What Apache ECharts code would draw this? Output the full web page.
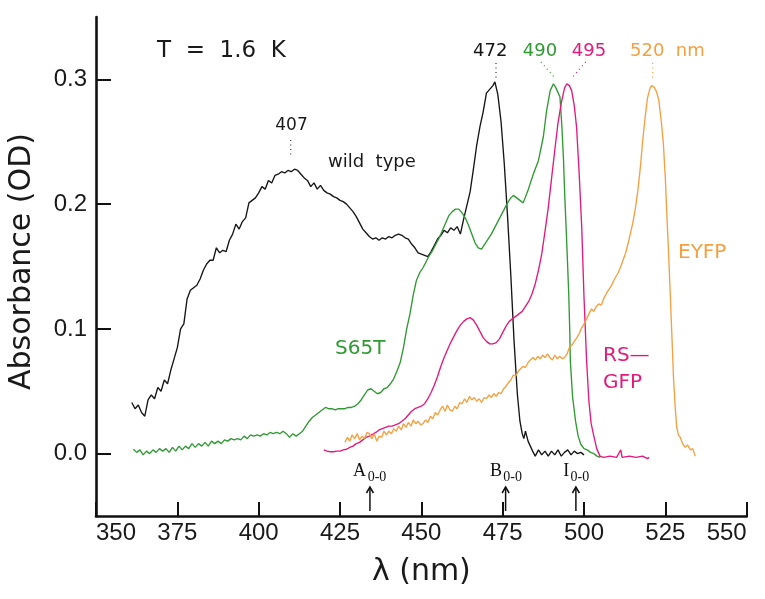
<!DOCTYPE html>
<html><head><meta charset="utf-8">
<script src="https://cdn.jsdelivr.net/npm/echarts@6/dist/echarts.min.js"></script>
<style>html,body{margin:0;padding:0;background:#fff}#c{width:765px;height:599px}</style>
</head><body><div id="c"></div>
<script>
// ---- data: [wavelength nm, absorbance OD] ----
const wildType = [[361,0.041],[362,0.036],[363,0.039],[364,0.033],[365,0.030],[366,0.043],[367,0.047],[368,0.044],[369,0.053],[370,0.050],[371,0.059],[372,0.056],[373,0.067],[374,0.076],[375,0.085],[376,0.100],[377,0.104],[378,0.124],[379,0.131],[380,0.133],[381,0.135],[382,0.140],[383,0.147],[384,0.152],[385,0.155],[386,0.155],[387,0.165],[388,0.161],[389,0.163],[390,0.162],[391,0.171],[392,0.176],[393,0.184],[394,0.180],[395,0.186],[396,0.189],[397,0.201],[398,0.203],[399,0.205],[400,0.209],[401,0.214],[402,0.212],[403,0.219],[404,0.217],[405,0.223],[406,0.224],[407,0.226],[408,0.225],[409,0.227],[410,0.226],[411,0.228],[412,0.227],[413,0.224],[414,0.221],[415,0.219],[416,0.214],[417,0.217],[418,0.212],[419,0.215],[420,0.211],[421,0.209],[422,0.208],[423,0.206],[424,0.205],[425,0.203],[426,0.202],[427,0.200],[428,0.197],[429,0.194],[430,0.190],[431,0.185],[432,0.180],[433,0.177],[434,0.174],[435,0.172],[436,0.173],[437,0.171],[438,0.173],[439,0.172],[440,0.174],[441,0.173],[442,0.175],[443,0.176],[444,0.175],[445,0.173],[446,0.172],[447,0.168],[448,0.165],[449,0.161],[450,0.160],[451,0.159],[452,0.158],[453,0.162],[454,0.167],[455,0.172],[456,0.175],[457,0.179],[458,0.177],[459,0.181],[460,0.179],[461,0.182],[462,0.176],[463,0.188],[464,0.199],[465,0.210],[466,0.228],[467,0.247],[468,0.262],[469,0.274],[470,0.289],[471,0.292],[472,0.295],[472.6,0.298],[473.5,0.288],[474.5,0.266],[475.5,0.232],[476.5,0.190],[477.5,0.143],[478.5,0.090],[479.5,0.048],[480.3,0.026],[481,0.016],[481.5,0.012],[482,0.018],[482.8,0.010],[483.5,0.006],[484.2,0.002],[485,-0.002],[486,0.003],[487,-0.001],[488,0.002],[489,-0.002],[490,0.002],[491,-0.001],[492,0.003],[493,-0.002],[494,0.001],[495,0.003],[496,-0.001],[497,0.002],[498,0.000],[499,0.001],[500,-0.001]];

const s65t = [[361.5,0.0035],[362.5,0.001],[363.5,0.003],[364.5,-0.001],[365.5,0.002],[366.5,0.000],[367.5,0.003],[368.5,0.001],[369.5,0.004],[370.5,0.002],[371.5,0.004],[372.5,0.001],[373.5,0.005],[374.5,0.002],[375.5,0.006],[376.5,0.003],[377.5,0.006],[378.5,0.004],[379.5,0.008],[380.5,0.005],[381.5,0.008],[382.5,0.006],[383.5,0.009],[384.5,0.006],[385.5,0.010],[386.5,0.008],[387.5,0.010],[388.5,0.008],[389.5,0.011],[390.5,0.010],[391.5,0.012],[392.5,0.011],[393.5,0.012],[394.5,0.011],[395.5,0.014],[396.5,0.012],[397.5,0.015],[398.5,0.014],[399.5,0.015],[400.5,0.014],[401.5,0.016],[402.5,0.015],[403.5,0.017],[404.5,0.016],[405.5,0.017],[406.5,0.016],[407.5,0.018],[408.5,0.016],[409.5,0.013],[410.5,0.016],[411.5,0.014],[412.5,0.016],[413.5,0.018],[414.5,0.022],[415.5,0.026],[416.5,0.029],[417.5,0.031],[418.5,0.033],[419.5,0.035],[420.5,0.037],[421.5,0.036],[422.5,0.036],[423.5,0.035],[424.5,0.036],[425.5,0.036],[426.5,0.036],[427.5,0.037],[428.5,0.037],[429.5,0.038],[430.5,0.040],[431.5,0.043],[432.5,0.047],[433.5,0.051],[434.5,0.052],[435.5,0.050],[436.5,0.048],[437.5,0.049],[438.5,0.052],[439.5,0.053],[440.5,0.056],[441.5,0.060],[442.5,0.066],[443.5,0.073],[444.5,0.085],[445.5,0.100],[446.5,0.112],[447.5,0.127],[448.5,0.139],[449.5,0.145],[450.5,0.149],[451.5,0.154],[452.5,0.159],[453.5,0.163],[454.5,0.168],[455.5,0.173],[456.5,0.179],[457.5,0.185],[458.5,0.191],[459.5,0.194],[460.5,0.196],[461.5,0.196],[462.5,0.193],[463.5,0.189],[464.5,0.183],[465.5,0.176],[466.5,0.169],[467.5,0.165],[468.5,0.164],[469.5,0.168],[470.5,0.172],[471.5,0.176],[472.5,0.181],[473.5,0.186],[474.5,0.191],[475.5,0.196],[476.5,0.201],[477.5,0.205],[478.3,0.207],[479.3,0.205],[480.3,0.203],[481.3,0.201],[481.9,0.2015],[482.9,0.212],[484.4,0.224],[486,0.235],[487.5,0.254],[488.5,0.275],[489.6,0.291],[490.6,0.2965],[491.2,0.294],[491.6,0.295],[492.6,0.286],[493.2,0.262],[493.7,0.235],[494.1,0.205],[494.5,0.181],[494.9,0.155],[495.3,0.128],[495.6,0.100],[495.8,0.074],[496.5,0.045],[497.4,0.026],[498.2,0.014],[499,0.0075],[500,0.004],[501,0.003],[502,0.001],[503,0.000],[504,-0.002],[505,-0.003]];

const rsGfp = [[420,0.003],[421,0.002],[422,0.0015],[423,0.0015],[424,0.002],[425,0.002],[426,0.003],[427,0.0035],[428,0.005],[429,0.006],[430,0.008],[431,0.009],[432,0.011],[433,0.013],[434,0.014],[435,0.0155],[436,0.017],[437,0.019],[438,0.020],[439,0.021],[440,0.022],[441,0.022],[442,0.023],[443,0.024],[444,0.026],[445,0.028],[446,0.031],[447,0.034],[448,0.036],[449,0.037],[450,0.038],[451,0.040],[452,0.044],[453,0.049],[454,0.055],[455,0.062],[456,0.070],[457,0.077],[458,0.083],[459,0.089],[460,0.094],[461,0.099],[462,0.103],[463,0.106],[464,0.108],[465,0.109],[466,0.107],[467,0.103],[468,0.098],[469,0.093],[470,0.090],[471,0.088],[472,0.088],[473,0.089],[474,0.092],[475,0.097],[476,0.102],[477,0.106],[478,0.108],[479,0.110],[480,0.112],[481,0.114],[482,0.118],[483,0.122],[484,0.128],[485,0.136],[486,0.147],[487,0.160],[488,0.178],[489,0.197],[490,0.220],[491,0.243],[492,0.265],[493,0.281],[494,0.293],[494.7,0.2965],[495.5,0.295],[496.2,0.291],[497,0.279],[497.7,0.262],[498.5,0.225],[499.3,0.181],[500,0.125],[500.8,0.074],[501.5,0.042],[502.2,0.024],[502.9,0.0155],[503.9,0.004],[504.9,-0.002],[506,-0.003],[508,-0.002],[510,-0.003],[511.3,0.003],[511.7,-0.003],[514,-0.002],[516,-0.003],[518,-0.002],[519.5,-0.004],[520,-0.003]];

const eyfp = [[426.5,0.009],[427.3,0.013],[428,0.010],[428.7,0.015],[429.5,0.012],[430.3,0.016],[431,0.011],[431.8,0.014],[432.5,0.012],[433.3,0.017],[434,0.016],[434.8,0.012],[435.5,0.016],[436.3,0.010],[437,0.014],[437.8,0.013],[438.5,0.018],[439.3,0.015],[440,0.018],[440.8,0.016],[441.5,0.020],[442.3,0.018],[443,0.022],[443.8,0.019],[444.5,0.024],[445.3,0.021],[446,0.025],[446.8,0.022],[447.5,0.027],[448.3,0.024],[449,0.026],[449.8,0.023],[450.5,0.024],[451.3,0.027],[452,0.025],[452.8,0.030],[453.5,0.028],[454.3,0.033],[455,0.031],[455.8,0.035],[456.5,0.038],[457.3,0.034],[458,0.039],[458.8,0.035],[459.5,0.034],[460.3,0.038],[461,0.036],[461.8,0.041],[462.5,0.040],[463.3,0.044],[464,0.041],[464.8,0.046],[465.5,0.043],[466.3,0.045],[467,0.042],[467.8,0.044],[468.5,0.041],[469.3,0.045],[470,0.044],[470.8,0.047],[471.5,0.045],[472.3,0.048],[473,0.046],[473.8,0.049],[474.5,0.048],[475.3,0.052],[476,0.054],[476.8,0.057],[477.5,0.059],[478.3,0.063],[479,0.062],[479.8,0.066],[480.5,0.068],[481.3,0.070],[482,0.069],[482.8,0.073],[483.5,0.075],[484.3,0.077],[485,0.075],[485.8,0.078],[486.5,0.076],[487.3,0.079],[488,0.077],[488.8,0.080],[489.5,0.077],[490.3,0.075],[491,0.079],[491.8,0.076],[492.5,0.078],[493.3,0.076],[494,0.077],[494.8,0.080],[495.5,0.085],[496.3,0.087],[497,0.090],[497.8,0.093],[498.5,0.096],[499.3,0.101],[500,0.104],[500.8,0.108],[501.5,0.112],[502.3,0.116],[503,0.114],[503.8,0.118],[504.5,0.120],[505.3,0.119],[506,0.124],[506.8,0.128],[507.5,0.131],[508.3,0.134],[509,0.138],[509.8,0.142],[510.5,0.145],[511.3,0.150],[512,0.155],[512.8,0.161],[513.5,0.168],[514.3,0.177],[515,0.185],[515.8,0.197],[516.5,0.210],[517.3,0.229],[518,0.250],[518.8,0.270],[519.5,0.285],[520.3,0.293],[520.8,0.295],[521.5,0.294],[522.3,0.290],[523,0.283],[523.8,0.265],[524.4,0.248],[525,0.220],[525.4,0.195],[526,0.160],[526.5,0.128],[527,0.095],[527.5,0.061],[528,0.038],[528.5,0.021],[529,0.015],[529.6,0.013],[530.3,0.008],[531.1,0.005],[531.8,0.007],[532.7,0.003],[533.4,0.004],[534.2,-0.002]];

const xTicks = [350,375,400,425,450,475,500,525,550];
const yTicks = [0,0.1,0.2,0.3];
// origin transition markers (wavelength nm)
const markerNames = ['A','B','I'];
const markerLambda = [434.2,475.9,497.5];

const C_BLACK = '#151515', C_GREEN = '#2f9a32', C_PINK = '#e5197a', C_ORANGE = '#f5a040';
const SANS = '"DejaVu Sans", sans-serif';

const chart = echarts.init(document.getElementById('c'));
function line(name, data, color) {
  return {name, type:'line', data, showSymbol:false, symbol:'none', smooth:false,
    lineStyle:{color, width:1.35}, itemStyle:{color}, animation:false, silent:true};
}
chart.setOption({
  animation:false,
  backgroundColor:'#fff',
  grid:{left:96, right:18.3, top:17, bottom:83, containLabel:false},
  xAxis:{type:'value', min:350, max:550, interval:25,
    axisLine:{onZero:false, lineStyle:{color:'#111', width:2.6}},
    axisTick:{inside:true, length:14, lineStyle:{color:'#111', width:2}},
    axisLabel:{fontSize:24, color:'#1a1a1a', fontFamily:'"Liberation Sans", sans-serif', margin:5,
      alignMinLabel:'left', alignMaxLabel:'right'},
    splitLine:{show:false},
    name:'λ (nm)', nameLocation:'middle', nameGap:41,
    nameTextStyle:{fontSize:30, fontFamily:SANS, color:'#1a1a1a'}},
  yAxis:{type:'value', min:-0.05, max:0.35,
    axisLine:{show:true, onZero:false, lineStyle:{color:'#111', width:2.6}},
    axisTick:{show:true, inside:true, length:15, customValues:yTicks, lineStyle:{color:'#111', width:2}},
    axisLabel:{customValues:yTicks, formatter:v=>Number(v).toFixed(1), fontSize:24, color:'#1a1a1a',
      fontFamily:'"Liberation Sans", sans-serif', margin:9},
    splitLine:{show:false}},
  series:[line('wild type', wildType, C_BLACK), line('S65T', s65t, C_GREEN),
          line('RS-GFP', rsGfp, C_PINK), line('EYFP', eyfp, C_ORANGE)]
});

function txt(text, x, y, size, color, align, family) {
  return {type:'text', z:10, style:{text, x, y, fontSize:size, fontFamily:family||SANS, fill:color,
    align:align||'center', verticalAlign:'middle', textAlign:align||'center', textVerticalAlign:'middle'}};
}
function dots(x1,y1,x2,y2,color){
  return {type:'line', z:10, shape:{x1,y1,x2,y2}, style:{stroke:color, lineWidth:1.2, lineDash:[1,3.5]}};
}
const g = [];
g.push({type:'text', z:10, x:22, y:261.5, rotation:Math.PI/2,
  style:{text:'Absorbance (OD)', fontSize:30, fontFamily:SANS, fill:'#1a1a1a', align:'center', verticalAlign:'middle', textAlign:'center', textVerticalAlign:'middle'}});
g.push(txt('T  =  1.6  K', 157, 51, 23, '#1a1a1a', 'left'));
g.push(txt('407', 291.5, 126, 17, '#1a1a1a'));
g.push(dots(290.7,140,290.7,158,'#333'));
g.push(txt('wild  type', 328, 162, 18, '#1a1a1a', 'left'));
g.push(txt('472', 490.3, 51.5, 18, C_BLACK));
g.push(dots(496,63,496,78,'#333'));
g.push(txt('490', 540, 51.5, 18, C_GREEN));
g.push(dots(541,62,555,78,C_GREEN));
g.push(txt('495', 589, 51.5, 18, C_PINK));
g.push(dots(585.7,62,571.7,78,C_PINK));
g.push(txt('520  nm', 630, 51.5, 18, C_ORANGE, 'left'));
g.push(dots(652.7,63,652.7,79,C_ORANGE));
g.push(txt('S65T', 335, 349, 20, C_GREEN, 'left'));
g.push(txt('EYFP', 678, 252.5, 20, C_ORANGE, 'left'));
g.push(txt('RS—', 603, 355.5, 20, C_PINK, 'left'));
g.push(txt('GFP', 603, 382.5, 20, C_PINK, 'left'));

const SERIF = '"Liberation Serif", "DejaVu Serif", serif';
const letterOff = {A:-17, B:-15.7, I:-12.7};
const subOff = {A:-2.3, B:-2.4, I:-5.3};
markerNames.forEach((n, i) => {
  const px = chart.convertToPixel({gridIndex:0}, [markerLambda[i], 0])[0];
  g.push(txt(n, px + letterOff[n], 471, 18, '#111', 'left', SERIF));
  g.push(txt('0-0', px + subOff[n], 477.5, 14, '#111', 'left', SERIF));
  g.push({type:'line', z:10, shape:{x1:px, y1:487, x2:px, y2:511}, style:{stroke:'#111', lineWidth:1.5}});
  g.push({type:'polyline', z:10, shape:{points:[[px-3.5,493],[px,487],[px+3.5,493]]}, style:{stroke:'#111', lineWidth:1.5, fill:null}});
});
chart.setOption({graphic:g});
</script></body></html>
